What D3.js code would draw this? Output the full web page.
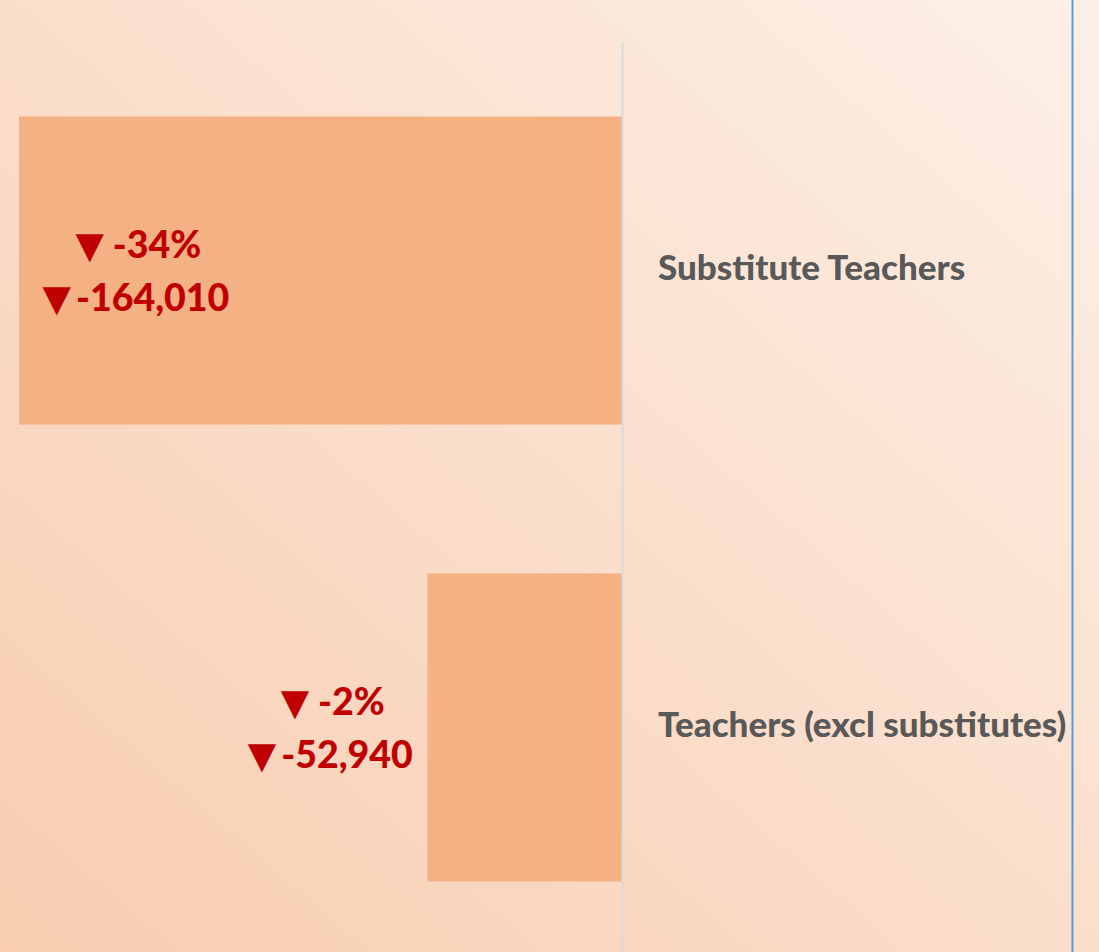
<!DOCTYPE html>
<html>
<head>
<meta charset="utf-8">
<script src="https://cdn.jsdelivr.net/npm/d3@7"></script>
<style>
  html, body { margin: 0; padding: 0; overflow: hidden; }
  svg { display: block; }
</style>
</head>
<body>
<svg id="chart"></svg>
<script>
// data
var categories = ["Substitute Teachers", "Teachers (excl substitutes)"];
var changes = [-164010, -52940];
var pctChanges = [-34, -2];

var width = 1099, height = 952;
var margin = {top: 42, right: 477, bottom: -4, left: 19};

var rows = categories.map(function(c, i) {
    return {name: c, value: changes[i], pct: pctChanges[i]};
});

var svg = d3.select("#chart")
    .attr("width", width)
    .attr("height", height);

// background gradient, darker towards bottom-left
var defs = svg.append("defs");
var grad = defs.append("linearGradient")
    .attr("id", "bg")
    .attr("x1", "0%").attr("y1", "100%")
    .attr("x2", "100%").attr("y2", "0%");
grad.append("stop").attr("offset", "0%").attr("stop-color", "#f8cdb0");
grad.append("stop").attr("offset", "100%").attr("stop-color", "#fdf0e7");

svg.append("rect")
    .attr("width", width)
    .attr("height", height)
    .attr("fill", "url(#bg)");

var x = d3.scaleLinear()
    .domain([d3.min(changes), 0])
    .range([margin.left, width - margin.right]);

var y = d3.scaleBand()
    .domain(categories)
    .range([margin.top, height - margin.bottom])
    .paddingInner(0.326)
    .paddingOuter(0.163);

// bars
svg.append("g")
    .attr("fill", "#f4b183")
    .selectAll("rect")
    .data(rows)
    .enter().append("rect")
    .attr("x", d => x(d.value))
    .attr("y", d => y(d.name))
    .attr("width", d => x(0) - x(d.value))
    .attr("height", y.bandwidth());

// category axis at zero
var yAxis = g => g
    .attr("transform", `translate(${x(0)},0)`)
    .call(d3.axisRight(y).tickSize(0).tickPadding(36))
    .call(g => g.select(".domain")
        .attr("stroke", "#d9d9d9")
        .attr("stroke-width", 2))
    .call(g => g.selectAll("text")
        .attr("fill", "#595959")
        .attr("dy", "0.28em")
        .style("font", "900 35px Lato, sans-serif"));

svg.append("g").call(yAxis);

// data labels
var fmt = d3.format(",d");
var num = v => fmt(v).replace("\u2212", "-");

var labels = svg.append("g")
    .attr("fill", "#c00000")
    .attr("text-anchor", "middle")
    .style("font", "900 37.5px Lato, sans-serif")
    .selectAll("text")
    .data(rows)
    .enter().append("text");

labels.each(function(d) {
    var t = d3.select(this);
    var l1 = t.append("tspan").attr("class", "pct");
    var l2 = t.append("tspan").attr("class", "abs");
    l1.append("tspan").style("font", "37px 'DejaVu Sans'").text("▼");
    l1.append("tspan").text(" " + d.pct + "%");
    l2.append("tspan").style("font", "37px 'DejaVu Sans'").text("▼");
    l2.append("tspan").attr("dx", 5).text(num(d.value));
});

labels.each(function(d) {
    var t = d3.select(this);
    var w = d3.max(t.selectAll(":scope > tspan").nodes(), n => n.getComputedTextLength()) + 5;
    var end = x(d.value);
    var cx = end - 12 - w / 2;
    if (cx - w / 2 < 0) cx = end + 26 + w / 2;
    var cy = y(d.name) + y.bandwidth() / 2;
    t.select(".pct").attr("x", cx).attr("y", cy - 13);
    t.select(".abs").attr("x", cx - 2.5).attr("y", cy + 40);
});

// right border line
svg.append("line")
    .attr("x1", 1072.5).attr("x2", 1072.5)
    .attr("y1", 0).attr("y2", height)
    .attr("stroke", "#5b9bd5")
    .attr("stroke-width", 2);
</script>
</body>
</html>
